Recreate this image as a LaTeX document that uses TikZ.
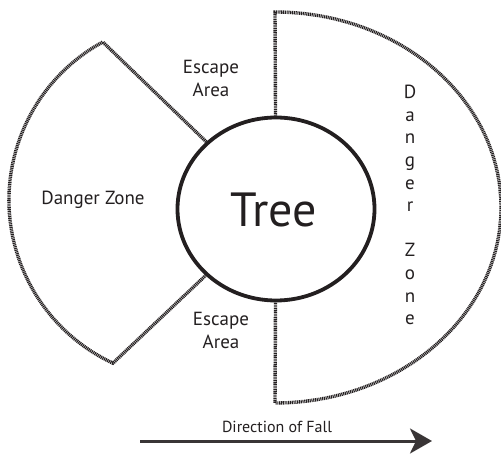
\documentclass[tikz,border=0pt]{standalone}
\usepackage{fontspec}
\setmainfont{PT Sans}
\usetikzlibrary{arrows.meta,shapes.geometric}
\definecolor{ink}{HTML}{231F20}
\tikzset{
  zone/.style={line width=3.4pt, draw=ink, dash pattern=on 1.1pt off 0.7pt},
  lbl/.style={text=ink, inner sep=0pt, align=center, font=\fontsize{19}{23.3}\selectfont},
  treebox/.style={ellipse, draw=ink, line width=3.8pt, minimum width=197pt, minimum height=183pt, inner sep=0pt},
}
\begin{document}
\begin{tikzpicture}[x=1pt,y=1pt]
\useasboundingbox (0,0) rectangle (501,-454);
% tree
\node[treebox] (tree) at (276,-209) {};
\node[text=ink, inner sep=0pt, anchor=base, font=\fontsize{48}{50}\selectfont] (treetxt) at (273.5,-227) {Tree};
% points
\coordinate (ltop) at (102.8,-42);
\coordinate (rtop) at (275,-12);
% left danger zone
\draw[zone] (tree) -- (ltop) arc[start angle=118.6, end angle=245, radius=180pt] -- (tree);
% right danger zone
\draw[zone] (tree) -- (rtop) arc[start angle=90, end angle=-90, x radius=226pt, y radius=195.5pt] -- (tree);
% labels
\node[lbl, anchor=base] (dzl) at (93,-205) {Danger Zone};
\node[lbl, anchor=north] (esctop) at (211,-60) {Escape\\Area};
\node[lbl, anchor=north] (escbot) at (221,-312) {Escape\\Area};
\node[lbl, anchor=north, font=\fontsize{19}{22.6}\selectfont] (dzr) at (410,-85) {D\\a\\n\\g\\e\\r\\[22.6pt]Z\\o\\n\\e};
% direction of fall
\coordinate (astart) at (140,-441);
\coordinate (aend) at (432,-441);
\draw[line width=3pt, draw=ink!90, -{Stealth[length=22pt, width=25pt, inset=6pt]}] (astart) -- (aend);
\node[text=ink, inner sep=0pt, anchor=base, font=\fontsize{16}{18}\selectfont] (dof) at (277,-432) {Direction of Fall};
\end{tikzpicture}
\end{document}
